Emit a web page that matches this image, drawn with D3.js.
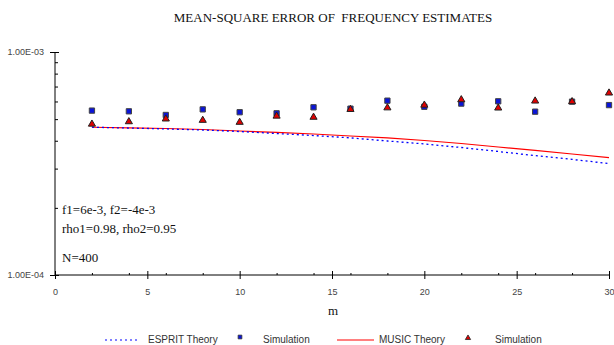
<!DOCTYPE html>
<html>
<head>
<meta charset="utf-8">
<script src="https://cdn.jsdelivr.net/npm/d3@7"></script>
<style>
  body { margin: 0; background: #fff; }
  svg { display: block; }
  text { white-space: pre; }
</style>
</head>
<body>
<script>
// chart values
var mValues = [2, 4, 6, 8, 10, 12, 14, 16, 18, 20, 22, 24, 26, 28, 30];
var espritTheory = [4.60e-4, 4.56e-4, 4.52e-4, 4.47e-4, 4.40e-4, 4.31e-4, 4.22e-4, 4.12e-4,
                    3.99e-4, 3.87e-4, 3.73e-4, 3.58e-4, 3.43e-4, 3.30e-4, 3.16e-4];
var espritSim = [5.46e-4, 5.42e-4, 5.22e-4, 5.53e-4, 5.37e-4, 5.31e-4, 5.65e-4, 5.57e-4,
                 6.05e-4, 5.68e-4, 5.87e-4, 6.01e-4, 5.40e-4, 5.99e-4, 5.78e-4];
var musicTheory = [4.60e-4, 4.57e-4, 4.54e-4, 4.49e-4, 4.42e-4, 4.36e-4, 4.29e-4, 4.20e-4,
                   4.12e-4, 4.01e-4, 3.89e-4, 3.75e-4, 3.62e-4, 3.49e-4, 3.36e-4];
var musicSim = [4.75e-4, 4.87e-4, 5.01e-4, 4.94e-4, 4.84e-4, 5.16e-4, 5.10e-4, 5.53e-4,
                5.62e-4, 5.78e-4, 6.11e-4, 5.61e-4, 6.03e-4, 5.99e-4, 6.55e-4];
var xTicks = [0, 5, 10, 15, 20, 25, 30];
var xMinor = [2, 4, 6, 8, 12, 14, 16, 18, 22, 24, 26, 28];
var yTicks = [1e-4, 1e-3];
var yTickLabels = ["1.00E-04", "1.00E-03"];
var yMinor = [2e-4, 3e-4, 4e-4, 5e-4, 6e-4, 7e-4, 8e-4, 9e-4];
var notes = ["f1=6e-3, f2=-4e-3", "rho1=0.98, rho2=0.95", "N=400"];

var width = 614, height = 345;
var plotLeft = 55, plotRight = 609, plotTop = 52, plotBottom = 275;

var svg = d3.select("body").append("svg")
    .attr("width", width)
    .attr("height", height);

var x = d3.scaleLinear().domain([0, 30]).range([plotLeft, plotRight]);
var y = d3.scaleLog().domain([1e-4, 1e-3]).range([plotBottom, plotTop]);

var serif = "'Liberation Serif', 'Times New Roman', serif";
var sans = "'Liberation Sans', Arial, sans-serif";

svg.append("text")
    .attr("x", 333).attr("y", 22)
    .attr("text-anchor", "middle")
    .style("font-family", serif).style("font-size", "13px")
    .attr("fill", "#111")
    .text("MEAN-SQUARE ERROR OF  FREQUENCY ESTIMATES");

// y axis
var yAxis = svg.append("g")
    .attr("transform", "translate(" + plotLeft + ",0)")
    .call(d3.axisLeft(y).tickValues(yTicks).tickSize(5).tickPadding(6)
        .tickFormat(function(d, i) { return yTickLabels[i]; }));
yAxis.selectAll(".tick line").attr("x2", -5).attr("x1", 4);
yAxis.selectAll("text").style("font-family", sans).style("font-size", "9px").attr("fill", "#444");
yAxis.select(".domain").attr("d", "M0," + plotTop + "V" + plotBottom);

var yMin = svg.append("g")
    .attr("transform", "translate(" + plotLeft + ",0)")
    .call(d3.axisRight(y).tickValues(yMinor).tickSize(3).tickFormat(""));
yMin.select(".domain").remove();

// x axis
var xAxis = svg.append("g")
    .attr("transform", "translate(0," + plotBottom + ")")
    .call(d3.axisBottom(x).tickValues(xTicks).tickSize(4).tickPadding(10));
xAxis.selectAll(".tick line").attr("y1", -4).attr("y2", 4);
xAxis.selectAll("text").style("font-family", sans).style("font-size", "9px").attr("fill", "#444");
xAxis.select(".domain").attr("d", "M" + plotLeft + ",0H" + plotRight);

var xMin = svg.append("g")
    .attr("transform", "translate(0," + plotBottom + ")")
    .call(d3.axisTop(x).tickValues(xMinor).tickSize(2).tickFormat(""));
xMin.select(".domain").remove();

svg.append("text")
    .attr("x", 333).attr("y", 315)
    .attr("text-anchor", "middle")
    .style("font-family", serif).style("font-size", "13px")
    .attr("fill", "#111")
    .text("m");

// annotations
var noteY = [214, 233, 262];
notes.forEach(function(t, i) {
  svg.append("text")
      .attr("x", 62).attr("y", noteY[i])
      .style("font-family", serif).style("font-size", "13px")
      .attr("fill", "#111")
      .text(t);
});

// theory lines
var line = function(vals) {
  return d3.line()
      .x(function(d, i) { return x(mValues[i]); })
      .y(function(d) { return y(d); })(vals);
};

svg.append("path")
    .attr("d", line(musicTheory))
    .attr("fill", "none").attr("stroke", "#ff0000").attr("stroke-width", 1.1);

svg.append("path")
    .attr("d", line(espritTheory))
    .attr("fill", "none").attr("stroke", "#0000ff").attr("stroke-width", 1.3)
    .attr("stroke-dasharray", "2,3");

// simulation markers
var sq = d3.symbol().type(d3.symbolSquare).size(28);
var tri = d3.symbol().type(d3.symbolTriangle).size(22);

svg.append("g").selectAll("path")
    .data(espritSim)
    .enter().append("path")
      .attr("d", sq)
      .attr("transform", function(d, i) { return "translate(" + x(mValues[i]) + "," + y(d) + ")"; })
      .attr("fill", "#0a14d8").attr("stroke", "#444").attr("stroke-width", 1);

svg.append("g").selectAll("path")
    .data(musicSim)
    .enter().append("path")
      .attr("d", tri)
      .attr("transform", function(d, i) { return "translate(" + x(mValues[i]) + "," + y(d) + ")"; })
      .attr("fill", "#e00000").attr("stroke", "#222").attr("stroke-width", 1);

// legend
var ly = 340;
var legend = svg.append("g");
legend.append("line").attr("x1", 105).attr("x2", 140).attr("y1", ly).attr("y2", ly)
    .attr("stroke", "#0000ff").attr("stroke-width", 1.2).attr("stroke-dasharray", "2,3");
legend.append("path").attr("d", d3.symbol().type(d3.symbolSquare).size(14))
    .attr("transform", "translate(240," + (ly - 3) + ")")
    .attr("fill", "#0a14d8").attr("stroke", "#333").attr("stroke-width", 0.8);
legend.append("line").attr("x1", 337).attr("x2", 374).attr("y1", ly).attr("y2", ly)
    .attr("stroke", "#ff0000").attr("stroke-width", 1);
legend.append("path").attr("d", d3.symbol().type(d3.symbolTriangle).size(12))
    .attr("transform", "translate(468," + (ly - 2) + ")")
    .attr("fill", "#e00000").attr("stroke", "#222").attr("stroke-width", 0.8);

var legText = [["ESPRIT Theory", 148], ["Simulation", 263], ["MUSIC Theory", 379], ["Simulation", 495]];
legText.forEach(function(t) {
  legend.append("text")
      .attr("x", t[1]).attr("y", ly + 3)
      .style("font-family", sans).style("font-size", "10px")
      .attr("fill", "#333")
      .text(t[0]);
});
</script>
</body>
</html>
